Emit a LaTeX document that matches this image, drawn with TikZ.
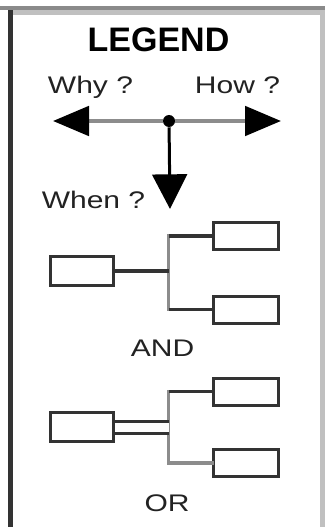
\documentclass[tikz,border=0pt]{standalone}
\usepackage{fontspec}
\setmainfont{Liberation Sans}
\usepackage{graphicx}
\usetikzlibrary{arrows.meta}
\newcommand\widetxt[1]{\scalebox{1.25}[1]{#1}}
\definecolor{frdark}{HTML}{333333}
\definecolor{frmid}{HTML}{8A8A8A}
\definecolor{frlight}{HTML}{C0C0C0}
\definecolor{boxc}{HTML}{333333}
\definecolor{linegray}{HTML}{8C8C8C}
\definecolor{txtc}{HTML}{222222}
\tikzset{
  lbl/.style={font=\fontsize{18}{20}\selectfont, text=txtc, inner sep=0pt, anchor=base},
  title/.style={font=\fontsize{25.5}{28}\selectfont\bfseries, text=black, inner sep=0pt, anchor=base},
  lbox/.style={draw=boxc, line width=2.25pt, minimum width=47.25pt, minimum height=21.75pt, inner sep=0pt},
  rbox/.style={draw=boxc, line width=2.25pt, minimum width=48.75pt, minimum height=20.25pt, inner sep=0pt},
  darklink/.style={draw=boxc, line width=2.4pt},
  graylink/.style={draw=linegray, line width=2.6pt, line cap=rect},
  orlink/.style={draw=boxc, double=white, double distance=6.75pt, line width=2.25pt},
  hline/.style={draw=linegray, line width=3pt, -{Triangle[length=27pt,width=22pt,color=black]}},
  vline/.style={draw=black, line width=2.25pt, -{Triangle[length=26pt,width=26pt]}},
  dot/.style={circle, fill=black, minimum size=9pt, inner sep=0pt}
}
\begin{document}
\begin{tikzpicture}[x=0.75pt,y=-0.75pt]
\useasboundingbox (0,0) rectangle (325,527);
\fill[white] (0,0) rectangle (325,527);
% frame
\fill[frmid] (0,6) rectangle (325,10);
\fill[frlight] (13,10) rectangle (320,15);
\fill[frlight] (320,10) rectangle (325,527);
\fill[frdark] (8,10) rectangle (13,527);
% title and question labels
\node[title] (legend) at (158.5,52) {LEGEND};
\node[lbl] (why) at (90.5,94) {\widetxt{Why ?}};
\node[lbl] (how) at (237.5,94) {\widetxt{How ?}};
\node[lbl] (whenl) at (93.5,208) {\widetxt{When ?}};
% why/how/when arrows
\node[dot] (c) at (169,121) {};
\coordinate (whyend) at (53,121);
\coordinate (howend) at (281,121);
\coordinate (whenend) at (170,209);
\draw[hline] (c) -- (whyend);
\draw[hline] (c) -- (howend);
\draw[vline] (c) -- (whenend);
% AND
\node[lbox] (aL) at (82,271) {};
\node[rbox] (aT) at (246,236) {};
\node[rbox] (aB) at (246,309.5) {};
\coordinate (aJ) at (168.5,271);
\draw[graylink] (aT.west -| aJ) -- (aB.west -| aJ);
\draw[darklink] (aL) -- (aJ);
\draw[darklink] (aT.west -| aJ) -- (aT);
\draw[darklink] (aB.west -| aJ) -- (aB);
\node[lbl] (andl) at (162.5,356) {\widetxt{AND}};
% OR
\node[lbox] (oL) at (82,427) {};
\node[rbox] (oT) at (246,391.5) {};
\node[rbox] (oB) at (246,463) {};
\coordinate (oJ) at (168.5,427);
\draw[graylink] (oT.west -| oJ) -- (oB.west -| oJ);
\draw[darklink] (oT.west -| oJ) -- (oT);
\draw[graylink] (oB.west -| oJ) -- (oB);
\draw[orlink] (oL) -- (oJ);
\node[lbl] (orl) at (167,511) {\widetxt{OR}};
\end{tikzpicture}
\end{document}
